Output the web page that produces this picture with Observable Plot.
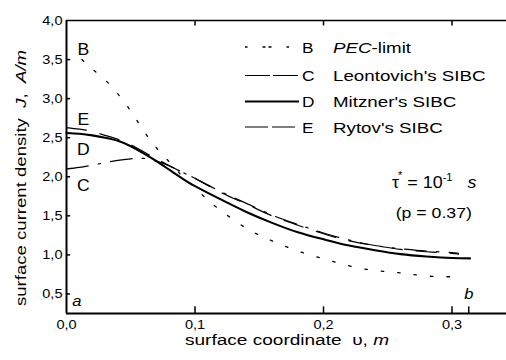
<!DOCTYPE html>
<html><head><meta charset="utf-8">
<script src="https://cdn.jsdelivr.net/npm/d3@7"></script>
<script src="https://cdn.jsdelivr.net/npm/@observablehq/plot@0.6"></script>
<style>body{margin:0;background:#fff}#chart svg{display:block}</style>
</head><body><div id="chart"></div>
<script>
// ---- data ----
const bX = [0.012,0.02,0.03,0.04,0.05,0.06,0.07,0.08,0.09,0.10,0.11,0.12,0.14,0.16,0.18,0.20,0.22,0.24,0.26,0.28,0.30,0.305];
const bY = [3.50,3.38,3.24,3.06,2.84,2.59,2.37,2.19,2.01,1.86,1.70,1.57,1.34,1.18,1.05,0.95,0.86,0.80,0.77,0.73,0.72,0.72];
const cX = [0,0.01,0.02,0.03,0.04,0.05,0.06,0.07,0.08,0.09,0.10,0.12,0.14,0.16,0.18,0.20,0.22,0.24,0.26,0.28,0.30,0.305];
const cY = [2.10,2.12,2.15,2.18,2.21,2.23,2.235,2.20,2.14,2.06,1.98,1.81,1.66,1.51,1.39,1.28,1.19,1.12,1.08,1.05,1.03,1.02];
const dX = [0,0.01,0.02,0.03,0.04,0.05,0.06,0.07,0.08,0.09,0.10,0.12,0.14,0.16,0.18,0.20,0.22,0.24,0.26,0.28,0.30,0.314];
const dY = [2.56,2.55,2.53,2.50,2.46,2.39,2.30,2.20,2.09,1.98,1.88,1.71,1.55,1.41,1.29,1.20,1.12,1.06,1.01,0.98,0.96,0.955];
const eX = [0,0.01,0.02,0.03,0.04,0.05,0.06,0.07,0.08,0.09,0.10,0.12,0.14,0.16,0.18,0.20,0.22,0.24,0.26,0.28,0.30,0.305];
const eY = [2.63,2.61,2.58,2.53,2.48,2.41,2.32,2.23,2.14,2.06,1.98,1.80,1.65,1.50,1.38,1.27,1.18,1.12,1.07,1.04,1.02,1.01];

const seriesKeys = ["B","C","D","E"];
const seriesNames = ["PEC-limit","Leontovich's SIBC","Mitzner's SIBC","Rytov's SIBC"];
const xTicks = [0,0.1,0.2,0.3];
const xTickLabels = ["0,0","0,1","0,2","0,3"];
const yTicks = [0.5,1.0,1.5,2.0,2.5,3.0,3.5,4.0];
const yTickLabels = ["0,5","1,0","1,5","2,0","2,5","3,0","3,5","4,0"];
const xEdgeTicks = [0.1,0.2,0.3,0.313];

const toRows = (xs, ys) => xs.map((x,i) => ({x, y: ys[i]}));
const B = toRows(bX,bY), C = toRows(cX,cY), D = toRows(dX,dY), E = toRows(eX,eY);

const lineStyles = {
  B: {strokeWidth: 1.3, strokeDasharray: "2.5,14"},
  C: {strokeWidth: 1.2, strokeDasharray: "22,10,2.5,10"},
  D: {strokeWidth: 2.1, strokeDasharray: null},
  E: {strokeWidth: 1.2, strokeDasharray: "20,14"}
};

const X0 = 0, X1 = 0.3424, Y0 = 0.25, Y1 = 4.0;
const FONT = "'Liberation Sans', Arial, sans-serif";

const plot = Plot.plot({
  width: 506, height: 360,
  marginLeft: 66, marginRight: 0, marginTop: 20, marginBottom: 47,
  style: {fontFamily: FONT, fontSize: "13px", background: "white", color: "black"},
  x: {domain: [X0, X1], ticks: xTicks, tickFormat: v => xTickLabels[xTicks.indexOf(v)], tickSize: 0, tickPadding: 6, label: null},
  y: {domain: [Y0, Y1], ticks: yTicks, tickFormat: v => yTickLabels[yTicks.indexOf(v)], tickSize: 0, tickPadding: 4, label: null},
  marks: [
    Plot.ruleY([Y1], {stroke: "black", strokeWidth: 1.5}),
    Plot.ruleY([Y0], {stroke: "black", strokeWidth: 2}),
    Plot.ruleX([X0], {stroke: "black", strokeWidth: 2}),
    Plot.ruleY(yTicks.slice(0,-1), {x1: 0, x2: 0.0032, stroke: "black", strokeWidth: 1.5}),
    Plot.ruleX(xEdgeTicks, {y1: Y0, y2: Y0 + 0.085, stroke: "black", strokeWidth: 1.5}),
    Plot.ruleX(xTicks.slice(1), {y1: Y1, y2: Y1 - 0.07, stroke: "black", strokeWidth: 1.5}),
    Plot.line(B, {x: "x", y: "y", stroke: "black", curve: "natural", ...lineStyles.B}),
    Plot.line(C, {x: "x", y: "y", stroke: "black", curve: "natural", ...lineStyles.C}),
    Plot.line(E, {x: "x", y: "y", stroke: "black", curve: "natural", ...lineStyles.E}),
    Plot.line(D, {x: "x", y: "y", stroke: "black", curve: "natural", ...lineStyles.D})
  ]
});

// Plot's tick labels: larger, wide-looking like the reference font
d3.select(plot).selectAll("text").each(function() {
  const t = this.getAttribute("transform");
  this.setAttribute("transform", (t ? t + " " : "") + "scale(1.12,1)");
  this.setAttribute("fill", "black");
  this.setAttribute("font-size", "13");
  this.style.fontSize = "13px";
  this.style.fontFamily = FONT;
});

document.getElementById("chart").appendChild(plot);

const svg = d3.select(plot);
const sx = plot.scale("x"), sy = plot.scale("y");

function label(x, y, parts, {size = 15, anchor = "start", stretch = 1.2, rotate = 0} = {}) {
  const t = svg.append("text")
    .attr("transform", `translate(${x},${y})` + (rotate ? ` rotate(${rotate})` : "") + ` scale(${stretch},1)`)
    .attr("text-anchor", anchor)
    .attr("font-family", FONT)
    .attr("font-size", size)
    .attr("fill", "black");
  for (const p of parts) {
    const s = t.append("tspan").text(p.t);
    if (p.italic) s.attr("font-style", "italic");
    if (p.size) s.attr("font-size", p.size);
    if (p.dy) s.attr("dy", p.dy);
    if (p.dx) s.attr("dx", p.dx);
  }
  return t;
}

// curve letters
label(sx.apply(0.0135), sy.apply(3.55), [{t: "B"}], {size: 16, anchor: "middle", stretch: 1.1});
label(sx.apply(0.0135), sy.apply(2.66), [{t: "E"}], {size: 16, anchor: "middle", stretch: 1.1});
label(sx.apply(0.0135), sy.apply(2.27), [{t: "D"}], {size: 16, anchor: "middle", stretch: 1.1});
label(sx.apply(0.0135), sy.apply(1.81), [{t: "C"}], {size: 16, anchor: "middle", stretch: 1.1});
label(sx.apply(0.0085), sy.apply(0.335), [{t: "a", italic: true}], {size: 15, anchor: "middle", stretch: 1.1});
label(sx.apply(0.3135), sy.apply(0.43), [{t: "b", italic: true}], {size: 15, anchor: "middle", stretch: 1.1});

// tau annotation
label(392, 188, [
  {t: "τ"}, {t: "*", size: 10, dx: -1, dy: -9}, {t: "\u00a0= 10", dy: 9}, {t: "-1", size: 10, dy: -7},
  {t: "\u00a0\u00a0\u00a0", dy: 7}, {t: "s", italic: true}
], {size: 16, stretch: 1.12});
label(sx.apply(0.2862), sy.apply(1.47), [{t: "(p = 0.37)"}], {size: 15, anchor: "middle", stretch: 1.18});

// legend
const legY = [47, 75.5, 101.5, 127];
seriesKeys.forEach((k, i) => {
  const st = lineStyles[k];
  svg.append("line").attr("x1", 245).attr("x2", k === "B" ? 293 : 299)
    .attr("y1", legY[i]).attr("y2", legY[i])
    .attr("stroke", "black").attr("stroke-width", st.strokeWidth)
    .attr("stroke-dasharray", k === "B" ? "2.5,15,3,3,3,15" : k === "C" ? "25,3" : k === "E" ? "23,4" : null);
  label(302, legY[i] + 5.5, [{t: k}], {size: 15, stretch: 1.15});
  const name = seriesNames[i];
  const parts = k === "B" ? [{t: "PEC", italic: true}, {t: "-limit"}] : [{t: name}];
  label(333, legY[i] + 5.5, parts, {size: 15, stretch: 1.25});
});

// axis titles
label(287, 345, [{t: "surface coordinate\u00a0\u00a0υ, "}, {t: "m", italic: true}], {size: 15, anchor: "middle", stretch: 1.27});
label(26, 178, [{t: "surface current density\u00a0\u00a0"}, {t: "J", italic: true}, {t: ",\u00a0\u00a0"}, {t: "A/m", italic: true}], {size: 15, anchor: "middle", stretch: 1.24, rotate: -90});
</script>
</body></html>
